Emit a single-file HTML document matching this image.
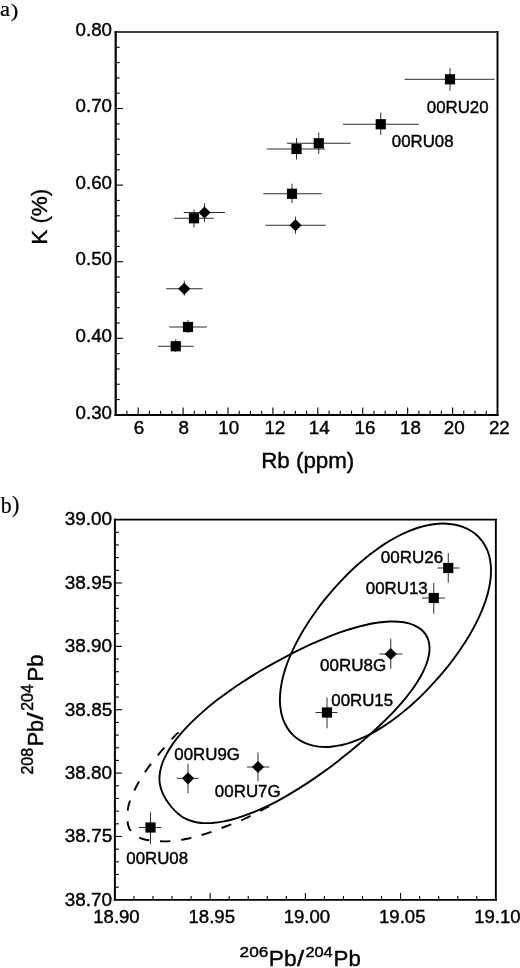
<!DOCTYPE html>
<html><head><meta charset="utf-8"><title>Figure</title>
<style>
html,body{margin:0;padding:0;background:#fff}
svg{display:block}
text.s{font-family:'Liberation Sans', Arial, Helvetica, sans-serif;fill:#000;stroke:#000;stroke-width:0.4px}
text.r{font-family:'Liberation Serif', 'Times New Roman', Times, serif;fill:#000;stroke:#000;stroke-width:0.2px}
</style></head><body>
<svg width="520" height="968" viewBox="0 0 520 968">
<rect width="520" height="968" fill="#fff"/>
<path d="M115.70 31.15V415.90" stroke="#000" stroke-width="2.2" fill="none"/>
<path d="M497.50 31.15V415.90" stroke="#000" stroke-width="1.9" fill="none"/>
<path d="M114.60 31.95H498.45" stroke="#000" stroke-width="1.6" fill="none"/>
<path d="M114.60 414.90H498.45" stroke="#000" stroke-width="2.0" fill="none"/>
<path d="M114.90 518.80V900.80" stroke="#000" stroke-width="2.0" fill="none"/>
<path d="M495.85 518.80V900.80" stroke="#000" stroke-width="1.9" fill="none"/>
<path d="M113.90 519.60H496.80" stroke="#000" stroke-width="1.6" fill="none"/>
<path d="M113.90 899.85H496.80" stroke="#000" stroke-width="1.9" fill="none"/>
<line x1="126.93" y1="414.90" x2="126.93" y2="410.70" stroke="#000" stroke-width="1.1"/>
<line x1="138.16" y1="414.90" x2="138.16" y2="407.40" stroke="#000" stroke-width="1.1"/>
<line x1="149.39" y1="414.90" x2="149.39" y2="410.70" stroke="#000" stroke-width="1.1"/>
<line x1="160.62" y1="414.90" x2="160.62" y2="410.70" stroke="#000" stroke-width="1.1"/>
<line x1="171.85" y1="414.90" x2="171.85" y2="410.70" stroke="#000" stroke-width="1.1"/>
<line x1="183.08" y1="414.90" x2="183.08" y2="407.40" stroke="#000" stroke-width="1.1"/>
<line x1="194.31" y1="414.90" x2="194.31" y2="410.70" stroke="#000" stroke-width="1.1"/>
<line x1="205.54" y1="414.90" x2="205.54" y2="410.70" stroke="#000" stroke-width="1.1"/>
<line x1="216.76" y1="414.90" x2="216.76" y2="410.70" stroke="#000" stroke-width="1.1"/>
<line x1="227.99" y1="414.90" x2="227.99" y2="407.40" stroke="#000" stroke-width="1.1"/>
<line x1="239.22" y1="414.90" x2="239.22" y2="410.70" stroke="#000" stroke-width="1.1"/>
<line x1="250.45" y1="414.90" x2="250.45" y2="410.70" stroke="#000" stroke-width="1.1"/>
<line x1="261.68" y1="414.90" x2="261.68" y2="410.70" stroke="#000" stroke-width="1.1"/>
<line x1="272.91" y1="414.90" x2="272.91" y2="407.40" stroke="#000" stroke-width="1.1"/>
<line x1="284.14" y1="414.90" x2="284.14" y2="410.70" stroke="#000" stroke-width="1.1"/>
<line x1="295.37" y1="414.90" x2="295.37" y2="410.70" stroke="#000" stroke-width="1.1"/>
<line x1="306.60" y1="414.90" x2="306.60" y2="410.70" stroke="#000" stroke-width="1.1"/>
<line x1="317.83" y1="414.90" x2="317.83" y2="407.40" stroke="#000" stroke-width="1.1"/>
<line x1="329.06" y1="414.90" x2="329.06" y2="410.70" stroke="#000" stroke-width="1.1"/>
<line x1="340.29" y1="414.90" x2="340.29" y2="410.70" stroke="#000" stroke-width="1.1"/>
<line x1="351.52" y1="414.90" x2="351.52" y2="410.70" stroke="#000" stroke-width="1.1"/>
<line x1="362.75" y1="414.90" x2="362.75" y2="407.40" stroke="#000" stroke-width="1.1"/>
<line x1="373.98" y1="414.90" x2="373.98" y2="410.70" stroke="#000" stroke-width="1.1"/>
<line x1="385.21" y1="414.90" x2="385.21" y2="410.70" stroke="#000" stroke-width="1.1"/>
<line x1="396.44" y1="414.90" x2="396.44" y2="410.70" stroke="#000" stroke-width="1.1"/>
<line x1="407.66" y1="414.90" x2="407.66" y2="407.40" stroke="#000" stroke-width="1.1"/>
<line x1="418.89" y1="414.90" x2="418.89" y2="410.70" stroke="#000" stroke-width="1.1"/>
<line x1="430.12" y1="414.90" x2="430.12" y2="410.70" stroke="#000" stroke-width="1.1"/>
<line x1="441.35" y1="414.90" x2="441.35" y2="410.70" stroke="#000" stroke-width="1.1"/>
<line x1="452.58" y1="414.90" x2="452.58" y2="407.40" stroke="#000" stroke-width="1.1"/>
<line x1="463.81" y1="414.90" x2="463.81" y2="410.70" stroke="#000" stroke-width="1.1"/>
<line x1="475.04" y1="414.90" x2="475.04" y2="410.70" stroke="#000" stroke-width="1.1"/>
<line x1="486.27" y1="414.90" x2="486.27" y2="410.70" stroke="#000" stroke-width="1.1"/>
<line x1="115.70" y1="47.27" x2="119.70" y2="47.27" stroke="#000" stroke-width="1.1"/>
<line x1="115.70" y1="62.59" x2="119.70" y2="62.59" stroke="#000" stroke-width="1.1"/>
<line x1="115.70" y1="77.90" x2="119.70" y2="77.90" stroke="#000" stroke-width="1.1"/>
<line x1="115.70" y1="93.22" x2="119.70" y2="93.22" stroke="#000" stroke-width="1.1"/>
<line x1="115.70" y1="108.54" x2="123.00" y2="108.54" stroke="#000" stroke-width="1.1"/>
<line x1="115.70" y1="123.86" x2="119.70" y2="123.86" stroke="#000" stroke-width="1.1"/>
<line x1="115.70" y1="139.18" x2="119.70" y2="139.18" stroke="#000" stroke-width="1.1"/>
<line x1="115.70" y1="154.49" x2="119.70" y2="154.49" stroke="#000" stroke-width="1.1"/>
<line x1="115.70" y1="169.81" x2="119.70" y2="169.81" stroke="#000" stroke-width="1.1"/>
<line x1="115.70" y1="185.13" x2="123.00" y2="185.13" stroke="#000" stroke-width="1.1"/>
<line x1="115.70" y1="200.45" x2="119.70" y2="200.45" stroke="#000" stroke-width="1.1"/>
<line x1="115.70" y1="215.77" x2="119.70" y2="215.77" stroke="#000" stroke-width="1.1"/>
<line x1="115.70" y1="231.08" x2="119.70" y2="231.08" stroke="#000" stroke-width="1.1"/>
<line x1="115.70" y1="246.40" x2="119.70" y2="246.40" stroke="#000" stroke-width="1.1"/>
<line x1="115.70" y1="261.72" x2="123.00" y2="261.72" stroke="#000" stroke-width="1.1"/>
<line x1="115.70" y1="277.04" x2="119.70" y2="277.04" stroke="#000" stroke-width="1.1"/>
<line x1="115.70" y1="292.36" x2="119.70" y2="292.36" stroke="#000" stroke-width="1.1"/>
<line x1="115.70" y1="307.67" x2="119.70" y2="307.67" stroke="#000" stroke-width="1.1"/>
<line x1="115.70" y1="322.99" x2="119.70" y2="322.99" stroke="#000" stroke-width="1.1"/>
<line x1="115.70" y1="338.31" x2="123.00" y2="338.31" stroke="#000" stroke-width="1.1"/>
<line x1="115.70" y1="353.63" x2="119.70" y2="353.63" stroke="#000" stroke-width="1.1"/>
<line x1="115.70" y1="368.95" x2="119.70" y2="368.95" stroke="#000" stroke-width="1.1"/>
<line x1="115.70" y1="384.26" x2="119.70" y2="384.26" stroke="#000" stroke-width="1.1"/>
<line x1="115.70" y1="399.58" x2="119.70" y2="399.58" stroke="#000" stroke-width="1.1"/>
<line x1="133.95" y1="899.85" x2="133.95" y2="896.05" stroke="#000" stroke-width="1.1"/>
<line x1="153.00" y1="899.85" x2="153.00" y2="896.05" stroke="#000" stroke-width="1.1"/>
<line x1="172.04" y1="899.85" x2="172.04" y2="896.05" stroke="#000" stroke-width="1.1"/>
<line x1="191.09" y1="899.85" x2="191.09" y2="896.05" stroke="#000" stroke-width="1.1"/>
<line x1="210.14" y1="899.85" x2="210.14" y2="893.05" stroke="#000" stroke-width="1.1"/>
<line x1="229.19" y1="899.85" x2="229.19" y2="896.05" stroke="#000" stroke-width="1.1"/>
<line x1="248.23" y1="899.85" x2="248.23" y2="896.05" stroke="#000" stroke-width="1.1"/>
<line x1="267.28" y1="899.85" x2="267.28" y2="896.05" stroke="#000" stroke-width="1.1"/>
<line x1="286.33" y1="899.85" x2="286.33" y2="896.05" stroke="#000" stroke-width="1.1"/>
<line x1="305.38" y1="899.85" x2="305.38" y2="893.05" stroke="#000" stroke-width="1.1"/>
<line x1="324.42" y1="899.85" x2="324.42" y2="896.05" stroke="#000" stroke-width="1.1"/>
<line x1="343.47" y1="899.85" x2="343.47" y2="896.05" stroke="#000" stroke-width="1.1"/>
<line x1="362.52" y1="899.85" x2="362.52" y2="896.05" stroke="#000" stroke-width="1.1"/>
<line x1="381.57" y1="899.85" x2="381.57" y2="896.05" stroke="#000" stroke-width="1.1"/>
<line x1="400.61" y1="899.85" x2="400.61" y2="893.05" stroke="#000" stroke-width="1.1"/>
<line x1="419.66" y1="899.85" x2="419.66" y2="896.05" stroke="#000" stroke-width="1.1"/>
<line x1="438.71" y1="899.85" x2="438.71" y2="896.05" stroke="#000" stroke-width="1.1"/>
<line x1="457.76" y1="899.85" x2="457.76" y2="896.05" stroke="#000" stroke-width="1.1"/>
<line x1="476.80" y1="899.85" x2="476.80" y2="896.05" stroke="#000" stroke-width="1.1"/>
<line x1="114.90" y1="532.27" x2="118.90" y2="532.27" stroke="#000" stroke-width="1.1"/>
<line x1="114.90" y1="544.95" x2="118.90" y2="544.95" stroke="#000" stroke-width="1.1"/>
<line x1="114.90" y1="557.62" x2="118.90" y2="557.62" stroke="#000" stroke-width="1.1"/>
<line x1="114.90" y1="570.30" x2="118.90" y2="570.30" stroke="#000" stroke-width="1.1"/>
<line x1="114.90" y1="582.98" x2="121.90" y2="582.98" stroke="#000" stroke-width="1.1"/>
<line x1="114.90" y1="595.65" x2="118.90" y2="595.65" stroke="#000" stroke-width="1.1"/>
<line x1="114.90" y1="608.33" x2="118.90" y2="608.33" stroke="#000" stroke-width="1.1"/>
<line x1="114.90" y1="621.00" x2="118.90" y2="621.00" stroke="#000" stroke-width="1.1"/>
<line x1="114.90" y1="633.68" x2="118.90" y2="633.68" stroke="#000" stroke-width="1.1"/>
<line x1="114.90" y1="646.35" x2="121.90" y2="646.35" stroke="#000" stroke-width="1.1"/>
<line x1="114.90" y1="659.03" x2="118.90" y2="659.03" stroke="#000" stroke-width="1.1"/>
<line x1="114.90" y1="671.70" x2="118.90" y2="671.70" stroke="#000" stroke-width="1.1"/>
<line x1="114.90" y1="684.38" x2="118.90" y2="684.38" stroke="#000" stroke-width="1.1"/>
<line x1="114.90" y1="697.05" x2="118.90" y2="697.05" stroke="#000" stroke-width="1.1"/>
<line x1="114.90" y1="709.73" x2="121.90" y2="709.73" stroke="#000" stroke-width="1.1"/>
<line x1="114.90" y1="722.40" x2="118.90" y2="722.40" stroke="#000" stroke-width="1.1"/>
<line x1="114.90" y1="735.08" x2="118.90" y2="735.08" stroke="#000" stroke-width="1.1"/>
<line x1="114.90" y1="747.75" x2="118.90" y2="747.75" stroke="#000" stroke-width="1.1"/>
<line x1="114.90" y1="760.43" x2="118.90" y2="760.43" stroke="#000" stroke-width="1.1"/>
<line x1="114.90" y1="773.10" x2="121.90" y2="773.10" stroke="#000" stroke-width="1.1"/>
<line x1="114.90" y1="785.78" x2="118.90" y2="785.78" stroke="#000" stroke-width="1.1"/>
<line x1="114.90" y1="798.45" x2="118.90" y2="798.45" stroke="#000" stroke-width="1.1"/>
<line x1="114.90" y1="811.12" x2="118.90" y2="811.12" stroke="#000" stroke-width="1.1"/>
<line x1="114.90" y1="823.80" x2="118.90" y2="823.80" stroke="#000" stroke-width="1.1"/>
<line x1="114.90" y1="836.48" x2="121.90" y2="836.48" stroke="#000" stroke-width="1.1"/>
<line x1="114.90" y1="849.15" x2="118.90" y2="849.15" stroke="#000" stroke-width="1.1"/>
<line x1="114.90" y1="861.83" x2="118.90" y2="861.83" stroke="#000" stroke-width="1.1"/>
<line x1="114.90" y1="874.50" x2="118.90" y2="874.50" stroke="#000" stroke-width="1.1"/>
<line x1="114.90" y1="887.18" x2="118.90" y2="887.18" stroke="#000" stroke-width="1.1"/>
<line x1="404.50" y1="79.30" x2="494.60" y2="79.30" stroke="#222" stroke-width="0.95"/>
<line x1="450.00" y1="67.80" x2="450.00" y2="90.70" stroke="#222" stroke-width="0.95"/>
<rect x="444.90" y="74.20" width="10.2" height="10.2" fill="#000"/>
<line x1="343.00" y1="124.25" x2="418.75" y2="124.25" stroke="#222" stroke-width="0.95"/>
<line x1="380.75" y1="112.50" x2="380.75" y2="135.00" stroke="#222" stroke-width="0.95"/>
<rect x="375.65" y="119.15" width="10.2" height="10.2" fill="#000"/>
<line x1="287.00" y1="143.25" x2="350.50" y2="143.25" stroke="#222" stroke-width="0.95"/>
<line x1="318.75" y1="132.50" x2="318.75" y2="153.75" stroke="#222" stroke-width="0.95"/>
<rect x="313.65" y="138.15" width="10.2" height="10.2" fill="#000"/>
<line x1="266.75" y1="149.00" x2="325.00" y2="149.00" stroke="#222" stroke-width="0.95"/>
<line x1="296.50" y1="138.00" x2="296.50" y2="159.50" stroke="#222" stroke-width="0.95"/>
<rect x="291.40" y="143.90" width="10.2" height="10.2" fill="#000"/>
<line x1="263.25" y1="193.75" x2="321.75" y2="193.75" stroke="#222" stroke-width="0.95"/>
<line x1="292.00" y1="183.75" x2="292.00" y2="203.00" stroke="#222" stroke-width="0.95"/>
<rect x="286.90" y="188.65" width="10.2" height="10.2" fill="#000"/>
<line x1="183.75" y1="212.50" x2="225.00" y2="212.50" stroke="#222" stroke-width="0.95"/>
<line x1="204.50" y1="203.25" x2="204.50" y2="222.00" stroke="#222" stroke-width="0.95"/>
<path d="M198.40 212.50L204.50 206.40L210.60 212.50L204.50 218.60Z" fill="#000"/>
<line x1="173.75" y1="218.25" x2="213.75" y2="218.25" stroke="#222" stroke-width="0.95"/>
<line x1="194.00" y1="209.50" x2="194.00" y2="227.50" stroke="#222" stroke-width="0.95"/>
<rect x="188.90" y="213.15" width="10.2" height="10.2" fill="#000"/>
<line x1="265.50" y1="225.25" x2="325.75" y2="225.25" stroke="#222" stroke-width="0.95"/>
<line x1="295.50" y1="216.75" x2="295.50" y2="233.75" stroke="#222" stroke-width="0.95"/>
<path d="M289.40 225.25L295.50 219.15L301.60 225.25L295.50 231.35Z" fill="#000"/>
<line x1="166.25" y1="288.75" x2="202.50" y2="288.75" stroke="#222" stroke-width="0.95"/>
<line x1="184.25" y1="280.75" x2="184.25" y2="295.75" stroke="#222" stroke-width="0.95"/>
<path d="M178.15 288.75L184.25 282.65L190.35 288.75L184.25 294.85Z" fill="#000"/>
<line x1="169.25" y1="327.00" x2="207.00" y2="327.00" stroke="#222" stroke-width="0.95"/>
<line x1="188.00" y1="320.00" x2="188.00" y2="333.00" stroke="#222" stroke-width="0.95"/>
<rect x="182.90" y="321.90" width="10.2" height="10.2" fill="#000"/>
<line x1="158.00" y1="346.25" x2="193.75" y2="346.25" stroke="#222" stroke-width="0.95"/>
<line x1="175.75" y1="339.25" x2="175.75" y2="352.00" stroke="#222" stroke-width="0.95"/>
<rect x="170.65" y="341.15" width="10.2" height="10.2" fill="#000"/>
<line x1="437.50" y1="568.00" x2="459.50" y2="568.00" stroke="#222" stroke-width="0.95"/>
<line x1="448.25" y1="553.00" x2="448.25" y2="582.50" stroke="#222" stroke-width="0.95"/>
<rect x="443.15" y="562.90" width="10.2" height="10.2" fill="#000"/>
<line x1="422.00" y1="598.00" x2="445.00" y2="598.00" stroke="#222" stroke-width="0.95"/>
<line x1="433.75" y1="583.00" x2="433.75" y2="613.75" stroke="#222" stroke-width="0.95"/>
<rect x="428.65" y="592.90" width="10.2" height="10.2" fill="#000"/>
<line x1="379.50" y1="654.00" x2="402.50" y2="654.00" stroke="#222" stroke-width="0.95"/>
<line x1="390.75" y1="638.75" x2="390.75" y2="668.75" stroke="#222" stroke-width="0.95"/>
<path d="M384.65 654.00L390.75 647.90L396.85 654.00L390.75 660.10Z" fill="#000"/>
<line x1="315.50" y1="712.50" x2="337.50" y2="712.50" stroke="#222" stroke-width="0.95"/>
<line x1="327.00" y1="697.50" x2="327.00" y2="728.25" stroke="#222" stroke-width="0.95"/>
<rect x="321.90" y="707.40" width="10.2" height="10.2" fill="#000"/>
<line x1="176.70" y1="778.30" x2="198.60" y2="778.30" stroke="#222" stroke-width="0.95"/>
<line x1="188.00" y1="763.75" x2="188.00" y2="793.40" stroke="#222" stroke-width="0.95"/>
<path d="M181.90 778.30L188.00 772.20L194.10 778.30L188.00 784.40Z" fill="#000"/>
<line x1="247.00" y1="767.00" x2="269.25" y2="767.00" stroke="#222" stroke-width="0.95"/>
<line x1="258.00" y1="752.50" x2="258.00" y2="781.25" stroke="#222" stroke-width="0.95"/>
<path d="M251.90 767.00L258.00 760.90L264.10 767.00L258.00 773.10Z" fill="#000"/>
<line x1="138.75" y1="827.50" x2="161.25" y2="827.50" stroke="#222" stroke-width="0.95"/>
<line x1="150.50" y1="812.50" x2="150.50" y2="843.75" stroke="#222" stroke-width="0.95"/>
<rect x="145.40" y="822.40" width="10.2" height="10.2" fill="#000"/>
<path d="M475.4 534.1C477.2 535.6 479.0 537.3 480.5 539.1C482.1 540.9 483.5 542.9 484.7 545.0C486.0 547.2 487.1 549.5 488.0 552.0C488.9 554.5 489.6 557.2 490.1 560.0C490.6 562.8 490.9 565.8 491.0 568.9C491.1 572.0 490.9 575.3 490.6 578.7C490.2 582.1 489.6 585.6 488.8 589.2C488.0 592.8 486.9 596.6 485.7 600.4C484.4 604.1 483.0 608.0 481.3 611.9C479.7 615.8 477.8 619.7 475.8 623.6C473.8 627.5 471.6 631.5 469.3 635.4C467.0 639.3 464.5 643.2 461.9 647.0C459.4 650.9 456.7 654.7 453.9 658.5C451.1 662.3 448.2 666.0 445.2 669.6C442.2 673.3 439.1 676.9 435.9 680.4C432.8 683.9 429.6 687.4 426.2 690.8C422.9 694.2 419.6 697.5 416.1 700.7C412.7 703.9 409.2 707.0 405.6 709.9C402.1 712.9 398.5 715.8 394.8 718.5C391.2 721.2 387.5 723.8 383.8 726.1C380.1 728.5 376.4 730.8 372.8 732.8C369.1 734.8 365.4 736.6 361.8 738.2C358.2 739.8 354.6 741.2 351.2 742.4C347.7 743.6 344.2 744.5 340.9 745.2C337.6 746.0 334.4 746.4 331.3 746.7C328.2 747.0 325.1 747.1 322.3 746.9C319.4 746.8 316.7 746.4 314.1 745.9C311.4 745.3 309.0 744.6 306.6 743.7C304.3 742.7 302.1 741.6 300.0 740.4C297.9 739.1 296.0 737.7 294.2 736.1C292.4 734.5 290.8 732.7 289.3 730.8C287.8 728.9 286.5 726.8 285.4 724.5C284.2 722.3 283.2 719.9 282.4 717.3C281.6 714.8 281.0 712.1 280.6 709.2C280.2 706.4 279.9 703.3 279.9 700.2C279.9 697.1 280.1 693.8 280.5 690.4C280.9 687.0 281.5 683.5 282.3 679.9C283.1 676.3 284.1 672.6 285.3 668.9C286.5 665.2 287.9 661.3 289.5 657.5C291.1 653.7 292.9 649.8 294.8 645.9C296.7 642.0 298.8 638.1 301.0 634.2C303.3 630.3 305.7 626.4 308.2 622.5C310.7 618.6 313.3 614.8 316.1 611.0C318.8 607.2 321.7 603.4 324.6 599.7C327.6 596.0 330.7 592.4 333.8 588.8C336.9 585.2 340.2 581.7 343.5 578.3C346.8 574.9 350.3 571.5 353.7 568.3C357.2 565.1 360.8 561.9 364.4 559.0C367.9 556.0 371.6 553.1 375.3 550.5C378.9 547.8 382.6 545.2 386.3 542.9C390.0 540.6 393.7 538.5 397.4 536.5C401.1 534.6 404.7 532.9 408.3 531.4C411.9 529.9 415.4 528.6 418.9 527.5C422.3 526.4 425.7 525.6 429.0 525.0C432.2 524.3 435.4 523.9 438.5 523.7C441.5 523.5 444.5 523.5 447.3 523.7C450.1 523.9 452.8 524.2 455.4 524.8C458.0 525.3 460.5 526.0 462.8 526.9C465.2 527.8 467.4 528.8 469.5 530.0C471.6 531.2 473.6 532.6 475.4 534.1Z" fill="none" stroke="#000" stroke-width="1.9"/>
<path d="M425.6 634.4C426.8 636.2 427.7 638.2 428.4 640.3C429.0 642.4 429.4 644.8 429.5 647.2C429.6 649.6 429.4 652.2 428.9 655.0C428.5 657.7 427.7 660.5 426.6 663.5C425.6 666.5 424.2 669.6 422.6 672.7C421.0 675.9 419.1 679.2 417.0 682.5C414.9 685.8 412.5 689.2 410.0 692.5C407.4 695.9 404.6 699.4 401.6 702.8C398.7 706.2 395.5 709.7 392.3 713.1C389.0 716.5 385.6 719.9 382.1 723.3C378.6 726.7 375.0 730.0 371.3 733.4C367.6 736.7 363.8 740.0 359.9 743.3C356.0 746.6 352.1 749.9 348.1 753.1C344.0 756.4 339.9 759.6 335.7 762.9C331.5 766.1 327.2 769.3 322.7 772.5C318.3 775.6 313.8 778.8 309.2 781.9C304.6 784.9 299.8 788.0 295.0 790.9C290.3 793.8 285.4 796.7 280.5 799.3C275.6 802.0 270.6 804.5 265.7 806.9C260.8 809.2 255.8 811.3 251.0 813.2C246.2 815.1 241.5 816.8 236.9 818.1C232.4 819.5 228.0 820.6 223.8 821.4C219.7 822.2 215.7 822.7 212.0 823.0C208.4 823.2 204.9 823.2 201.8 823.0C198.6 822.7 195.8 822.2 193.2 821.5C190.5 820.8 188.2 819.9 186.1 818.9C183.9 817.9 182.0 816.7 180.3 815.4C178.5 814.2 177.0 812.8 175.5 811.4C174.0 810.0 172.7 808.5 171.4 807.0C170.2 805.5 169.0 803.9 167.9 802.3C166.8 800.7 165.7 799.1 164.8 797.3C163.8 795.6 162.9 793.8 162.2 792.0C161.4 790.1 160.7 788.1 160.3 786.0C159.8 783.9 159.5 781.7 159.4 779.3C159.4 776.9 159.6 774.3 160.1 771.6C160.5 768.9 161.3 766.1 162.4 763.0C163.5 760.0 165.0 756.9 166.8 753.6C168.6 750.3 170.7 746.9 173.2 743.4C175.7 739.9 178.6 736.3 181.7 732.7C184.8 729.1 188.3 725.5 191.9 721.9C195.6 718.3 199.6 714.6 203.6 711.1C207.7 707.5 212.0 704.0 216.4 700.6C220.8 697.2 225.3 693.9 229.8 690.7C234.4 687.5 239.0 684.3 243.7 681.3C248.3 678.3 253.0 675.4 257.6 672.5C262.3 669.7 267.0 667.0 271.7 664.4C276.3 661.8 281.0 659.2 285.6 656.8C290.3 654.3 294.9 652.0 299.6 649.7C304.2 647.4 308.8 645.3 313.4 643.2C318.0 641.1 322.6 639.2 327.1 637.3C331.7 635.5 336.2 633.8 340.7 632.2C345.1 630.6 349.6 629.2 353.9 628.0C358.2 626.7 362.4 625.6 366.5 624.7C370.6 623.8 374.6 623.1 378.4 622.5C382.3 622.0 386.0 621.7 389.4 621.5C392.9 621.4 396.2 621.5 399.3 621.8C402.4 622.0 405.3 622.5 408.0 623.2C410.7 623.9 413.1 624.8 415.3 625.8C417.5 626.9 419.5 628.2 421.2 629.6C422.9 631.0 424.4 632.6 425.6 634.4Z" fill="none" stroke="#000" stroke-width="1.9"/>
<path id="dash" d="M178.8 732.5C178.1 733.0 177.9 732.5 175.0 735.6C172.1 738.7 165.8 745.8 161.2 751.2C156.7 756.7 151.7 762.6 147.5 768.5C143.3 774.4 139.4 780.5 136.2 786.8C133.1 793.0 129.8 800.0 128.4 806.2C127.0 812.5 127.2 820.0 128.0 824.5C128.8 829.0 130.5 830.6 133.0 833.0C135.5 835.4 137.6 837.6 142.8 839.0C147.9 840.4 156.6 841.4 163.8 841.4C170.9 841.4 178.9 840.3 185.9 839.0C192.9 837.7 198.9 835.8 205.5 833.8C212.1 831.7 218.9 829.0 225.5 826.5C232.1 824.0 238.6 821.5 245.2 818.5C251.8 815.5 261.0 810.4 265.0 808.4C269.0 806.4 268.5 806.6 269.2 806.3" fill="none" stroke="#000" stroke-width="1.9" stroke-dasharray="10.4 10.75" stroke-dashoffset="0.3"/>
<text class="s" font-size="18" transform="translate(75.57,35.65) scale(1.0408,1)">0.80</text>
<text class="s" font-size="18" transform="translate(75.57,112.24) scale(1.0408,1)">0.70</text>
<text class="s" font-size="18" transform="translate(75.57,188.83) scale(1.0408,1)">0.60</text>
<text class="s" font-size="18" transform="translate(75.57,265.42) scale(1.0408,1)">0.50</text>
<text class="s" font-size="18" transform="translate(75.57,342.01) scale(1.0408,1)">0.40</text>
<text class="s" font-size="18" transform="translate(75.57,418.60) scale(1.0408,1)">0.30</text>
<text class="s" font-size="18" transform="translate(133.67,434.30) scale(1.0450,1)">6</text>
<text class="s" font-size="18" transform="translate(178.52,434.30) scale(1.0450,1)">8</text>
<text class="s" font-size="18" transform="translate(218.18,434.30) scale(1.0450,1)">10</text>
<text class="s" font-size="18" transform="translate(264.38,434.30) scale(1.0450,1)">12</text>
<text class="s" font-size="18" transform="translate(308.78,434.30) scale(1.0450,1)">14</text>
<text class="s" font-size="18" transform="translate(354.61,434.30) scale(1.0450,1)">16</text>
<text class="s" font-size="18" transform="translate(399.98,434.30) scale(1.0450,1)">18</text>
<text class="s" font-size="18" transform="translate(443.76,434.30) scale(1.0450,1)">20</text>
<text class="s" font-size="18" transform="translate(488.89,434.30) scale(1.0450,1)">22</text>
<text class="s" font-size="22" transform="translate(47.00,244.84) rotate(-90) scale(1.0217,1)">K (%)</text>
<text class="s" font-size="22" transform="translate(261.17,467.50) scale(1.0163,1)">Rb (ppm)</text>
<text class="s" font-size="16" transform="translate(426.87,113.25) scale(1.0521,1)">00RU20</text>
<text class="s" font-size="16" transform="translate(391.87,146.75) scale(1.0521,1)">00RU08</text>
<text class="r" font-size="20.21" transform="translate(0.11,15.70) scale(1.1134,1)">a</text>
<text class="r" font-size="19.78" transform="translate(10.82,17.15) scale(1.1472,1)">)</text>
<text class="r" font-size="22.29" transform="translate(0.80,512.61) scale(0.9834,1)">b</text>
<text class="r" font-size="22.13" transform="translate(12.02,511.99) scale(1.0048,1)">)</text>
<text class="s" font-size="18" transform="translate(64.77,525.40) scale(1.0517,1)">39.00</text>
<text class="s" font-size="18" transform="translate(64.77,588.77) scale(1.0541,1)">38.95</text>
<text class="s" font-size="18" transform="translate(64.77,652.15) scale(1.0517,1)">38.90</text>
<text class="s" font-size="18" transform="translate(64.77,715.52) scale(1.0541,1)">38.85</text>
<text class="s" font-size="18" transform="translate(64.77,778.90) scale(1.0517,1)">38.80</text>
<text class="s" font-size="18" transform="translate(64.77,842.27) scale(1.0541,1)">38.75</text>
<text class="s" font-size="18" transform="translate(64.77,905.65) scale(1.0517,1)">38.70</text>
<text class="s" font-size="18" transform="translate(93.26,923.00) scale(1.0317,1)">18.90</text>
<text class="s" font-size="18" transform="translate(188.49,923.00) scale(1.0341,1)">18.95</text>
<text class="s" font-size="18" transform="translate(283.73,923.00) scale(1.0317,1)">19.00</text>
<text class="s" font-size="18" transform="translate(378.97,923.00) scale(1.0341,1)">19.05</text>
<text class="s" font-size="18" transform="translate(474.21,923.00) scale(1.0317,1)">19.10</text>
<text class="s" font-size="16" transform="translate(380.76,562.50) scale(1.0644,1)">00RU26</text>
<text class="s" font-size="16" transform="translate(365.87,594.25) scale(1.0539,1)">00RU13</text>
<text class="s" font-size="16" transform="translate(320.11,671.25) scale(1.0619,1)">00RU8G</text>
<text class="s" font-size="16" transform="translate(331.37,705.50) scale(1.0521,1)">00RU15</text>
<text class="s" font-size="16" transform="translate(174.37,760.00) scale(1.0536,1)">00RU9G</text>
<text class="s" font-size="16" transform="translate(214.87,797.00) scale(1.0578,1)">00RU7G</text>
<text class="s" font-size="16" transform="translate(126.37,863.75) scale(1.0521,1)">00RU08</text>
<text class="s" font-size="15" transform="translate(239.59,957.20) scale(1.1526,1)">206</text>
<text class="s" font-size="22" transform="translate(268.84,966.20) scale(1.0340,1)">Pb</text>
<text class="s" font-size="22" transform="translate(296.90,966.20) scale(1.1774,1)">/</text>
<text class="s" font-size="15" transform="translate(305.44,957.20) scale(1.0882,1)">204</text>
<text class="s" font-size="22" transform="translate(333.58,966.20) scale(1.0134,1)">Pb</text>
<text class="s" font-size="16.5" transform="translate(33.10,774.58) rotate(-90) scale(0.9711,1)">208</text>
<text class="s" font-size="22" transform="translate(43.40,746.36) rotate(-90) scale(0.9805,1)">Pb</text>
<text class="s" font-size="22" transform="translate(43.40,720.00) rotate(-90) scale(1.2419,1)">/</text>
<text class="s" font-size="16.5" transform="translate(33.10,710.77) rotate(-90) scale(0.9675,1)">204</text>
<text class="s" font-size="22" transform="translate(43.40,681.50) rotate(-90) scale(1.0011,1)">Pb</text>
</svg>
</body></html>
